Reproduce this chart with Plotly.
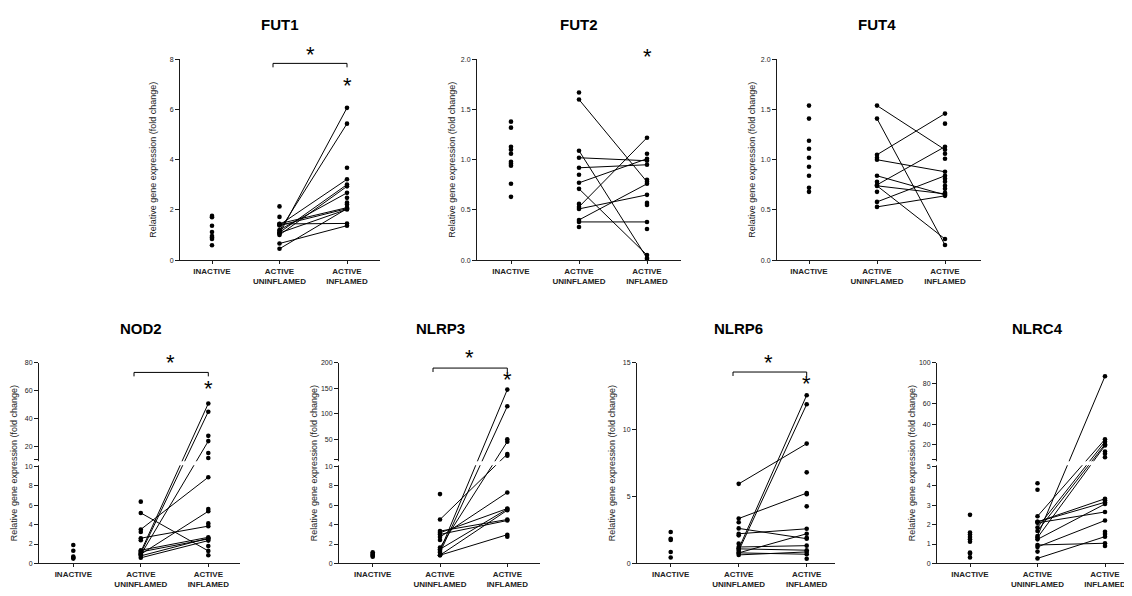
import plotly.graph_objects as go

W, H = 1132, 596
PAGE_OFF = 8  # the page body margin shifts the figure by 8 px
FONT = "Liberation Sans, Arial, sans-serif"

CATEGORIES = ["INACTIVE", "ACTIVE<br>UNINFLAMED", "ACTIVE<br>INFLAMED"]
Y_TITLE = "Relative gene expression (fold change)"

# ---------------- data (fold change) ----------------
fut1_inactive = [1.76, 1.71, 1.37, 1.12, 0.96, 0.90, 0.84, 0.59]
fut1_pair_uninfl = [1.05, 1.17, 1.44, 1.40, 1.10, 1.00, 1.20, 1.45, 1.38, 1.08, 0.45, 0.66]
fut1_pair_infl = [6.07, 5.44, 1.46, 3.22, 3.01, 2.94, 2.68, 2.09, 2.05, 2.02, 2.05, 1.37]
fut1_extra_uninfl = [2.14, 1.72]
fut1_extra_infl = [3.68, 2.48, 2.29, 2.22]

fut2_inactive = [1.38, 1.32, 1.13, 1.10, 1.06, 0.98, 0.96, 0.94, 0.76, 0.63]
fut2_pair_uninfl = [1.60, 1.09, 1.02, 0.92, 0.77, 0.71, 0.53, 0.51, 0.40, 0.38]
fut2_pair_infl = [0.78, 0.02, 0.99, 0.95, 1.01, 0.05, 1.22, 0.65, 0.76, 0.38]
fut2_extra_uninfl = [1.67, 0.85, 0.56, 0.33]
fut2_extra_infl = [1.06, 0.80, 0.57, 0.55, 0.31, 0.01]

fut4_inactive = [1.54, 1.41, 1.19, 1.11, 1.02, 0.93, 0.84, 0.72, 0.68]
fut4_pair_uninfl = [1.54, 1.41, 1.05, 1.00, 0.84, 0.75, 0.74, 0.74, 0.58, 0.53]
fut4_pair_infl = [1.10, 0.15, 1.46, 0.88, 0.65, 1.13, 0.66, 0.21, 0.84, 0.64]
fut4_extra_uninfl = [1.02, 0.78, 0.68]
fut4_extra_infl = [1.36, 1.06, 1.01, 0.81, 0.78, 0.74, 0.71, 0.67]

nod2_inactive = [1.9, 1.3, 0.7, 0.6, 0.5]
nod2_pair_uninfl = [1.20, 1.05, 0.90, 3.50, 5.20, 2.60, 0.95, 1.36, 1.19, 0.78, 0.58]
nod2_pair_infl = [50.7, 44.8, 23.6, 8.88, 1.29, 3.84, 5.37, 2.69, 2.52, 2.60, 2.35]
nod2_extra_uninfl = [6.36, 3.23, 2.38]
nod2_extra_infl = [27.4, 15.0, 11.4, 5.61, 4.12, 1.80, 0.85]

nlrp3_inactive = [1.15, 1.0, 0.9, 0.8, 0.7]
nlrp3_pair_uninfl = [1.29, 1.12, 1.63, 4.52, 2.72, 3.16, 3.33, 0.85, 1.46, 0.85, 2.99]
nlrp3_pair_infl = [147.6, 115.0, 45.8, 21.5, 7.31, 5.65, 4.52, 5.48, 5.60, 2.96, 4.42]
nlrp3_extra_uninfl = [7.14, 2.41]
nlrp3_extra_infl = [50.3, 18.3, 2.76]

nlrp6_inactive = [2.35, 1.85, 1.75, 0.86, 0.44]
nlrp6_pair_uninfl = [1.09, 0.94, 5.95, 3.36, 2.62, 2.22, 0.79, 1.23, 1.09, 0.64, 0.79]
nlrp6_pair_infl = [12.58, 11.90, 8.96, 5.26, 1.85, 2.59, 2.22, 1.33, 0.99, 0.86, 0.69]
nlrp6_extra_uninfl = [3.08, 2.10, 1.48]
nlrp6_extra_infl = [6.81, 5.18, 4.27, 1.92, 0.35]

nlrc4_inactive = [2.5, 1.59, 1.49, 1.36, 1.24, 1.12, 0.56, 0.51, 0.31]
nlrc4_pair_uninfl = [1.41, 2.43, 1.85, 1.67, 1.33, 2.14, 2.09, 2.14, 1.24, 0.85, 0.95, 0.26]
nlrc4_pair_infl = [86.9, 25.2, 22.9, 20.4, 19.1, 3.33, 2.65, 3.15, 3.06, 2.21, 1.04, 1.38]
nlrc4_extra_uninfl = [4.13, 3.79, 0.61]
nlrc4_extra_infl = [13.3, 11.1, 7.6, 3.25, 1.63, 1.51, 0.90]

# ---------------- panel layout ----------------
GAP = 0.65  # size of axis break in transformed units

panels = [
    dict(title="FUT1", inactive=fut1_inactive, pu=fut1_pair_uninfl, pi=fut1_pair_infl,
         eu=fut1_extra_uninfl, ei=fut1_extra_infl,
         ax=(180, 380), cats=(212, 347), ay=(259, 56), ymax=8, ticks=[0, 2, 4, 6, 8], fmt="{:g}", brk=None,
         ytitle_dx=27),
    dict(title="FUT2", inactive=fut2_inactive, pu=fut2_pair_uninfl, pi=fut2_pair_infl,
         eu=fut2_extra_uninfl, ei=fut2_extra_infl,
         ax=(477, 681), cats=(511, 647), ay=(259, 56), ymax=2.0, ticks=[0, 0.5, 1.0, 1.5, 2.0], fmt="{:.1f}", brk=None,
         ytitle_dx=25),
    dict(title="FUT4", inactive=fut4_inactive, pu=fut4_pair_uninfl, pi=fut4_pair_infl,
         eu=fut4_extra_uninfl, ei=fut4_extra_infl,
         ax=(777, 981), cats=(809, 945), ay=(259, 56), ymax=2.0, ticks=[0, 0.5, 1.0, 1.5, 2.0], fmt="{:.1f}", brk=None,
         ytitle_dx=25),
    dict(title="NOD2", inactive=nod2_inactive, pu=nod2_pair_uninfl, pi=nod2_pair_infl,
         eu=nod2_extra_uninfl, ei=nod2_extra_infl,
         ax=(39, 240), cats=(73.3, 208.3), ay=(566, 363), ymax=None, fmt="{:g}",
         brk=dict(lo=10, hi=80, lo_ticks=[0, 2, 4, 6, 8, 10], up_ticks=[20, 40, 60, 80]),
         ytitle_dx=25),
    dict(title="NLRP3", inactive=nlrp3_inactive, pu=nlrp3_pair_uninfl, pi=nlrp3_pair_infl,
         eu=nlrp3_extra_uninfl, ei=nlrp3_extra_infl,
         ax=(339, 540), cats=(372.7, 507.3), ay=(566, 363), ymax=None, fmt="{:g}",
         brk=dict(lo=10, hi=200, lo_ticks=[0, 2, 4, 6, 8, 10], up_ticks=[50, 100, 150, 200]),
         ytitle_dx=25),
    dict(title="NLRP6", inactive=nlrp6_inactive, pu=nlrp6_pair_uninfl, pi=nlrp6_pair_infl,
         eu=nlrp6_extra_uninfl, ei=nlrp6_extra_infl,
         ax=(637, 835), cats=(670.7, 806.7), ay=(566, 363), ymax=15, ticks=[0, 5, 10, 15], fmt="{:g}", brk=None,
         ytitle_dx=25),
    dict(title="NLRC4", inactive=nlrc4_inactive, pu=nlrc4_pair_uninfl, pi=nlrc4_pair_infl,
         eu=nlrc4_extra_uninfl, ei=nlrc4_extra_infl,
         ax=(937, 1140), cats=(970, 1105), ay=(566, 363), ymax=None, fmt="{:g}",
         brk=dict(lo=5, hi=100, lo_ticks=[0, 1, 2, 3, 4, 5], up_ticks=[20, 40, 60, 80, 100]),
         ytitle_dx=25),
]

brackets = [
    dict(x0=273, x1=347, y=60, star=(310, 52)),
    dict(x0=134, x1=208.3, y=372.7, star=(170, 364)),
    dict(x0=433, x1=507.3, y=368.3, star=(469, 359)),
    dict(x0=733, x1=806.7, y=372.3, star=(768, 364)),
]
infl_stars = [(347, 83), (647, 54), (208.3, 390), (507.3, 381), (806.7, 385)]


def fx(px):
    return (px - PAGE_OFF) / W


def fy(py):
    return 1 - (py - PAGE_OFF) / H


def transform(v, brk):
    if brk is None:
        return v
    lo, hi = brk["lo"], brk["hi"]
    if v <= lo:
        return v * 10.0 / lo
    return 10.0 + GAP + (v - lo) * 10.0 / (hi - lo)


fig = go.Figure()
shapes = []
annotations = []
layout = {}
AXC = "#1a1a1a"

for i, p in enumerate(panels):
    n = i + 1
    xs = "" if n == 1 else str(n)
    brk = p["brk"]
    t = lambda v, b=brk: transform(v, b)

    lx, ly = [], []
    for u, v in zip(p["pu"], p["pi"]):
        lx += [1, 2, None]
        ly += [t(u), t(v), None]
    fig.add_trace(go.Scatter(x=lx, y=ly, mode="lines", line=dict(color="black", width=1),
                             xaxis="x" + xs, yaxis="y" + xs, showlegend=False, hoverinfo="skip"))

    uninfl = list(p["pu"]) + list(p["eu"])
    infl = list(p["pi"]) + list(p["ei"])
    px_ = [0] * len(p["inactive"]) + [1] * len(uninfl) + [2] * len(infl)
    py_ = [t(v) for v in list(p["inactive"]) + uninfl + infl]
    fig.add_trace(go.Scatter(x=px_, y=py_, mode="markers", marker=dict(color="black", size=4.6),
                             cliponaxis=False, xaxis="x" + xs, yaxis="y" + xs, showlegend=False))

    x0, x1 = p["ax"]
    c0, c2 = p["cats"]
    sp = (c2 - c0) / 2.0
    xr = [-(c0 - x0) / sp, 2 + (x1 - c2) / sp]
    yb, yt = p["ay"]
    layout["xaxis" + xs] = dict(
        domain=[fx(x0), fx(x1)], range=xr, anchor="y" + xs,
        tickmode="array", tickvals=[0, 1, 2], ticktext=["<b>%s</b>" % c for c in CATEGORIES],
        tickfont=dict(family=FONT, size=8, color="#222"),
        showline=True, linecolor=AXC, linewidth=1, ticks="outside", ticklen=3, tickcolor=AXC,
        showgrid=False, zeroline=False, fixedrange=True)

    if brk is None:
        tv = p["ticks"]
        tt = [p["fmt"].format(v) for v in tv]
        yr = [0, p["ymax"]]
    else:
        tv = [t(v) for v in brk["lo_ticks"]] + [10.0 + GAP] + [t(v) for v in brk["up_ticks"]]
        tt = [p["fmt"].format(v) for v in brk["lo_ticks"]] + [""] + [p["fmt"].format(v) for v in brk["up_ticks"]]
        yr = [0, 20.0 + GAP]
        shapes.append(dict(type="rect", xref="x%s domain" % xs, yref="y" + xs,
                           x0=-0.03, x1=1.05, y0=10.0 + 0.12, y1=10.0 + GAP - 0.12,
                           fillcolor="white", line=dict(width=0), layer="above"))
    layout["yaxis" + xs] = dict(
        domain=[fy(yb), fy(yt)], range=yr, anchor="x" + xs,
        tickmode="array", tickvals=tv, ticktext=tt,
        tickfont=dict(family=FONT, size=7, color="#222"),
        showline=True, linecolor=AXC, linewidth=1, ticks="outside", ticklen=4, tickcolor=AXC,
        showgrid=False, zeroline=False, fixedrange=True)

    annotations.append(dict(text="<b>%s</b>" % p["title"], xref="x" + xs, yref="paper", x=1,
                            y=fy(yt - 35), xanchor="center", yanchor="middle", showarrow=False,
                            font=dict(family=FONT, size=15, color="black")))
    annotations.append(dict(text=Y_TITLE, xref="paper", yref="paper", x=fx(x0 - p["ytitle_dx"]),
                            y=(fy(yb) + fy(yt)) / 2, xanchor="center", yanchor="middle",
                            textangle=-90, showarrow=False,
                            font=dict(family=FONT, size=9, color="#222")))

STAR_DY = -1


def star(xp, yp):
    annotations.append(dict(text="*", xref="paper", yref="paper", x=fx(xp), y=fy(yp + STAR_DY),
                            xanchor="center", yanchor="middle", showarrow=False,
                            font=dict(family=FONT, size=22, color="black")))


for b in brackets:
    path = "M {a},{d} L {a},{c} L {b_},{c} L {b_},{d}".format(
        a=fx(b["x0"]), b_=fx(b["x1"]), c=fy(b["y"]), d=fy(b["y"] + 4))
    shapes.append(dict(type="path", xref="paper", yref="paper", path=path,
                       line=dict(color="black", width=1)))
    star(*b["star"])
for s in infl_stars:
    star(*s)

fig.update_layout(
    width=W, height=H, margin=dict(l=0, r=0, t=0, b=0),
    paper_bgcolor="white", plot_bgcolor="white", showlegend=False,
    shapes=shapes, annotations=annotations, **layout)

fig.write_html("out.html")
